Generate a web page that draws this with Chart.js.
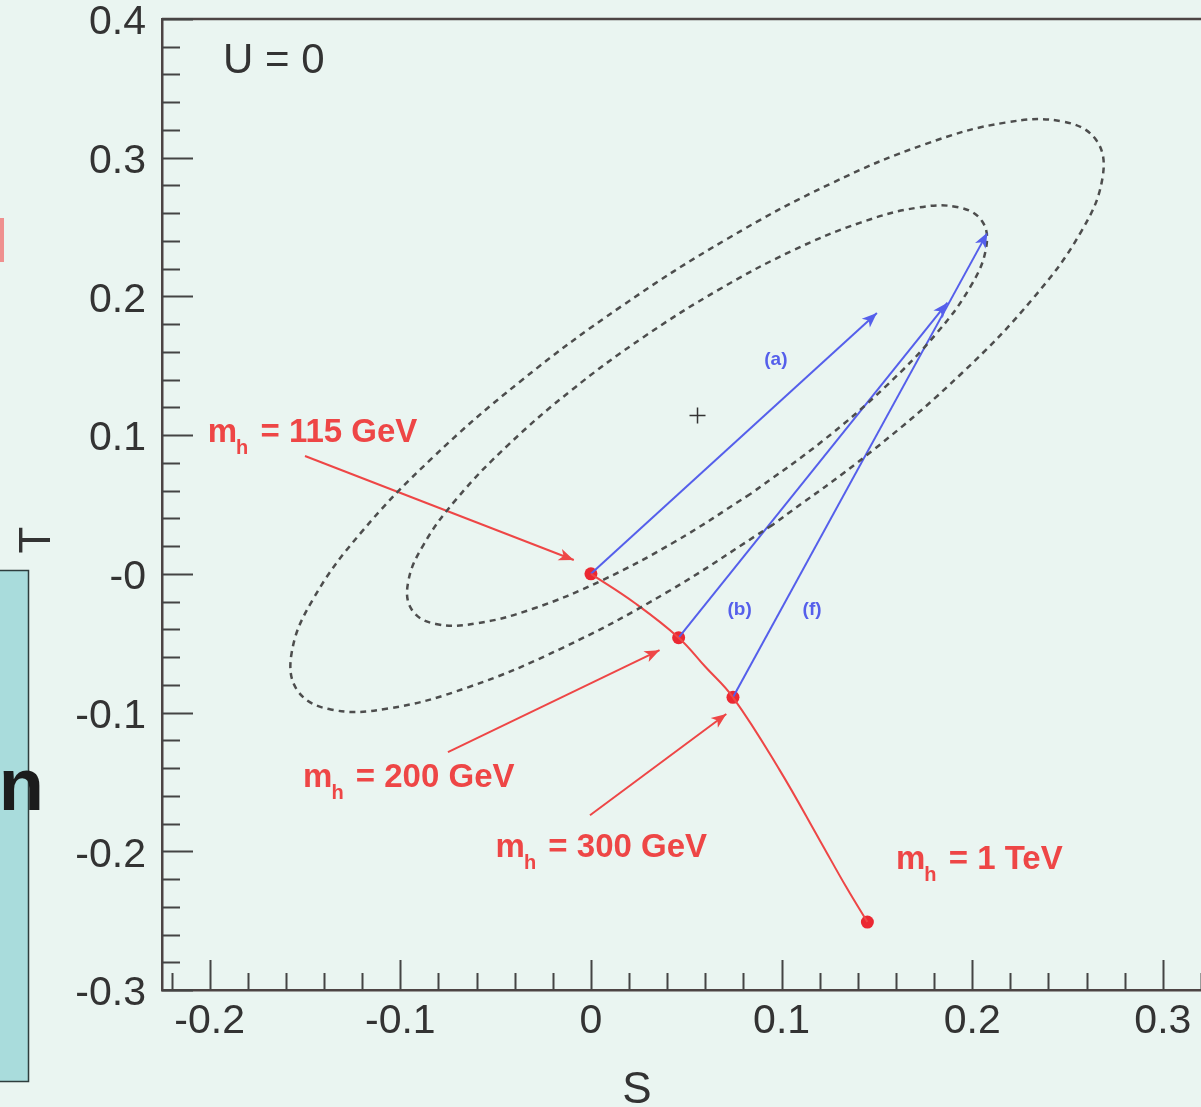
<!DOCTYPE html>
<html>
<head>
<meta charset="utf-8">
<title>S-T plane, U = 0</title>
<script src="https://cdn.jsdelivr.net/npm/chart.js@4.4.1/dist/chart.umd.min.js"></script>
<style>
  html, body { margin: 0; padding: 0; background: #eaf5f1; }
  canvas { display: block; }
</style>
</head>
<body>
<canvas id="stCanvas" width="1201" height="1107"></canvas>
<script>
// axis tick labels
const xTickValues = [-0.2, -0.1, 0, 0.1, 0.2, 0.3];
const xTickLabels = ['-0.2', '-0.1', '0', '0.1', '0.2', '0.3'];
const yTickValues = [-0.3, -0.2, -0.1, 0, 0.1, 0.2, 0.3, 0.4];
const yTickLabels = ['-0.3', '-0.2', '-0.1', '-0', '0.1', '0.2', '0.3', '0.4'];

// fit contours, points read round the dashed curves
const innerS = [0.0838, 0.0442, 0.0053, -0.0301, -0.0596, -0.0814, -0.0938, -0.0960, -0.0879, -0.0700, -0.0435, -0.0103, 0.0275,
                0.0671, 0.1060, 0.1414, 0.1709, 0.1927, 0.2051, 0.2073, 0.1992, 0.1813, 0.1548, 0.1216, 0.0838];
const innerT = [0.0577, 0.0233, -0.0050, -0.0250, -0.0356, -0.0361, -0.0262, -0.0068, 0.0208, 0.0548, 0.0928, 0.1323, 0.1706,
                0.2049, 0.2332, 0.2532, 0.2639, 0.2643, 0.2544, 0.2351, 0.2074, 0.1734, 0.1354, 0.0959, 0.0577];
const outerS = [0.0953, 0.0397, -0.0148, -0.0645, -0.1060, -0.1365, -0.1539, -0.1570, -0.1457, -0.1206, -0.0835, -0.0369, 0.0160,
                0.0716, 0.1261, 0.1758, 0.2173, 0.2478, 0.2652, 0.2683, 0.2570, 0.2319, 0.1948, 0.1481, 0.0953];
const outerT = [0.0353, -0.0134, -0.0533, -0.0818, -0.0970, -0.0978, -0.0842, -0.0570, -0.0181, 0.0297, 0.0832, 0.1389, 0.1929,
                0.2416, 0.2815, 0.3100, 0.3253, 0.3260, 0.3124, 0.2852, 0.2464, 0.1986, 0.1450, 0.0893, 0.0353];
const bestFitS = [0.0559];
const bestFitT = [0.1141];

// SM prediction vs Higgs mass
const smS = [0, 0.023, 0.046, 0.060, 0.0745, 0.099, 0.120, 0.134, 0.145];
const smT = [0, -0.021, -0.046, -0.067, -0.089, -0.1415, -0.192, -0.226, -0.251];
const massNames = ['115 GeV', '200 GeV', '300 GeV', '1 TeV'];
const massS = [0, 0.046, 0.0745, 0.145];
const massT = [0, -0.046, -0.089, -0.251];
const massLabelS = [-0.201, -0.151, -0.050, 0.160];
const massLabelT = [0.095, -0.154, -0.204, -0.213];
const pointerFromS = [-0.150, -0.075, -0.0005];
const pointerFromT = [0.085, -0.1285, -0.174];
const pointerToS = [-0.009, 0.036, 0.071];
const pointerToT = [0.010, -0.055, -0.101];

// shifts from new physics
const shiftNames = ['(a)', '(b)', '(f)'];
const shiftFromS = [0, 0.046, 0.0745];
const shiftFromT = [0, -0.046, -0.089];
const shiftToS = [0.150, 0.187, 0.208];
const shiftToT = [0.188, 0.1955, 0.246];
const shiftLabelS = [0.097, 0.078, 0.116];
const shiftLabelT = [0.154, -0.026, -0.026];

const RED = 'rgb(238,70,70)';
const BLUE = 'rgb(85,95,235)';
const FONT = '"Liberation Sans", Arial, sans-serif';

function pts(xs, ys) {
  return xs.map((x, i) => ({x: x, y: ys[i]}));
}

var datasets = [
  {data: pts(outerS, outerT), showLine: true, borderColor: '#4d4d4d', borderWidth: 2.5, borderDash: [6, 5], pointRadius: 0, tension: 0.4},
  {data: pts(innerS, innerT), showLine: true, borderColor: '#4d4d4d', borderWidth: 2.5, borderDash: [6, 5], pointRadius: 0, tension: 0.4},
  {data: pts(smS, smT), showLine: true, borderColor: RED, borderWidth: 2, pointRadius: 0, tension: 0.4},
  {data: pts(bestFitS, bestFitT), pointStyle: 'cross', pointRadius: 8, borderColor: '#333', borderWidth: 1.5}
];
for (let i = 0; i < shiftNames.length; i++) {
  datasets.push({
    data: [{x: shiftFromS[i], y: shiftFromT[i]}, {x: shiftToS[i], y: shiftToT[i]}],
    showLine: true, borderColor: BLUE, borderWidth: 2, pointRadius: 0, arrowHead: BLUE
  });
}
for (let i = 0; i < pointerFromS.length; i++) {
  datasets.push({
    data: [{x: pointerFromS[i], y: pointerFromT[i]}, {x: pointerToS[i], y: pointerToT[i]}],
    showLine: true, borderColor: RED, borderWidth: 2, pointRadius: 0, arrowHead: RED
  });
}
datasets.push({data: pts(massS, massT), pointRadius: 6.5, backgroundColor: 'rgb(235,40,50)', borderWidth: 0});

function drawArrowHead(c, x0, y0, x1, y1, color) {
  var a = Math.atan2(y1 - y0, x1 - x0);
  c.save();
  c.translate(x1, y1);
  c.rotate(a);
  c.fillStyle = color;
  c.beginPath();
  c.moveTo(0, 0);
  c.lineTo(-15, -6);
  c.lineTo(-11, 0);
  c.lineTo(-15, 6);
  c.closePath();
  c.fill();
  c.restore();
}

function drawMass(c, x, y, txt) {
  c.font = 'bold 33px ' + FONT;
  c.fillText('m', x, y);
  var w = c.measureText('m').width;
  c.font = 'bold 20px ' + FONT;
  c.fillText('h', x + w - 1, y + 12);
  w += c.measureText('h').width + 2;
  c.font = 'bold 33px ' + FONT;
  c.fillText(' = ' + txt, x + w, y);
}

const decor = {
  id: 'decor',
  beforeDraw(chart) {
    var c = chart.ctx;
    c.save();
    c.fillStyle = '#eaf5f1';
    c.fillRect(0, 0, chart.width, chart.height);
    // bits of the slide behind the plot
    c.fillStyle = '#a9dcdc';
    c.fillRect(0, 570, 29, 512);
    c.strokeStyle = '#2e3d3d';
    c.lineWidth = 1.5;
    c.beginPath();
    c.moveTo(0, 570.5); c.lineTo(28.5, 570.5); c.lineTo(28.5, 1081.5); c.lineTo(0, 1081.5);
    c.stroke();
    c.fillStyle = '#1c1c1c';
    c.font = 'bold 74px ' + FONT;
    c.textAlign = 'right';
    c.fillText('en', 44, 810);
    c.fillStyle = 'rgba(240,110,110,0.75)';
    c.fillRect(0, 218, 4, 44);
    c.restore();
  },
  afterDraw(chart) {
    var c = chart.ctx, xs = chart.scales.x, ys = chart.scales.y, area = chart.chartArea;
    c.save();
    // frame top
    c.strokeStyle = '#4d4444';
    c.lineWidth = 2.5;
    c.beginPath();
    c.moveTo(area.left, area.top);
    c.lineTo(area.right, area.top);
    c.stroke();
    // inward ticks
    c.strokeStyle = '#444';
    c.lineWidth = 2;
    c.beginPath();
    for (let k = -11; k <= 16; k++) {
      let px = Math.round(xs.getPixelForValue(k * 0.02)) + 0.5;
      let len = (k % 5 === 0) ? 30 : 17;
      c.moveTo(px, area.bottom);
      c.lineTo(px, area.bottom - len);
    }
    for (let k = -15; k <= 20; k++) {
      let py = Math.round(ys.getPixelForValue(k * 0.02)) + 0.5;
      let len = (k % 5 === 0) ? 31 : 18;
      c.moveTo(area.left, py);
      c.lineTo(area.left + len, py);
    }
    c.stroke();

    // arrow heads on the two-point lines
    chart.data.datasets.forEach(function (ds, i) {
      if (!ds.arrowHead) return;
      var p = chart.getDatasetMeta(i).data;
      drawArrowHead(c, p[0].x, p[0].y, p[1].x, p[1].y, ds.arrowHead);
    });

    // texts
    c.textAlign = 'left';
    c.textBaseline = 'alphabetic';
    c.fillStyle = '#333';
    c.font = '42px ' + FONT;
    c.fillText('U = 0', xs.getPixelForValue(-0.193), ys.getPixelForValue(0.361));

    c.fillStyle = RED;
    for (let i = 0; i < massNames.length; i++) {
      drawMass(c, xs.getPixelForValue(massLabelS[i]), ys.getPixelForValue(massLabelT[i]), massNames[i]);
    }
    c.fillStyle = BLUE;
    c.font = 'bold 19px ' + FONT;
    c.textAlign = 'center';
    c.textBaseline = 'middle';
    for (let i = 0; i < shiftNames.length; i++) {
      c.fillText(shiftNames[i], xs.getPixelForValue(shiftLabelS[i]), ys.getPixelForValue(shiftLabelT[i]));
    }

    // axis titles
    c.fillStyle = '#333';
    c.font = '44px ' + FONT;
    c.textBaseline = 'alphabetic';
    c.fillText('S', 637, 1103);
    c.translate(50, 540);
    c.rotate(-Math.PI / 2);
    c.fillText('T', 0, 0);
    c.restore();
  }
};

var ctx = document.getElementById('stCanvas').getContext('2d');
var stChart = new Chart(ctx, {
  type: 'scatter',
  data: {datasets: datasets},
  options: {
    responsive: false,
    animation: false,
    events: [],
    layout: {autoPadding: false, padding: {top: 19, right: 0, left: 0, bottom: 0}},
    plugins: {legend: {display: false}, tooltip: {enabled: false}},
    scales: {
      x: {
        type: 'linear',
        min: -0.225,
        max: 0.32,
        afterFit: function (s) { s.height = 117; s.paddingLeft = 0; s.paddingRight = 0; },
        afterBuildTicks: function (s) { s.ticks = xTickValues.map(v => ({value: v})); },
        ticks: {
          autoSkip: false, maxRotation: 0, padding: 11, color: '#333',
          font: {family: FONT, size: 41, lineHeight: 1},
          callback: function (v, i) { return xTickLabels[i]; }
        },
        grid: {display: false, drawTicks: false},
        border: {display: true, color: '#4d4444', width: 2.5}
      },
      y: {
        type: 'linear',
        min: -0.3,
        max: 0.4,
        afterFit: function (s) { s.width = 162; s.paddingTop = 0; s.paddingBottom = 0; },
        afterBuildTicks: function (s) { s.ticks = yTickValues.map(v => ({value: v})); },
        ticks: {
          autoSkip: false, padding: 16, labelOffset: 4, color: '#333',
          font: {family: FONT, size: 41, lineHeight: 1},
          callback: function (v, i) { return yTickLabels[i]; }
        },
        grid: {display: false, drawTicks: false},
        border: {display: true, color: '#4d4444', width: 2.5}
      }
    }
  },
  plugins: [decor]
});
</script>
</body>
</html>
